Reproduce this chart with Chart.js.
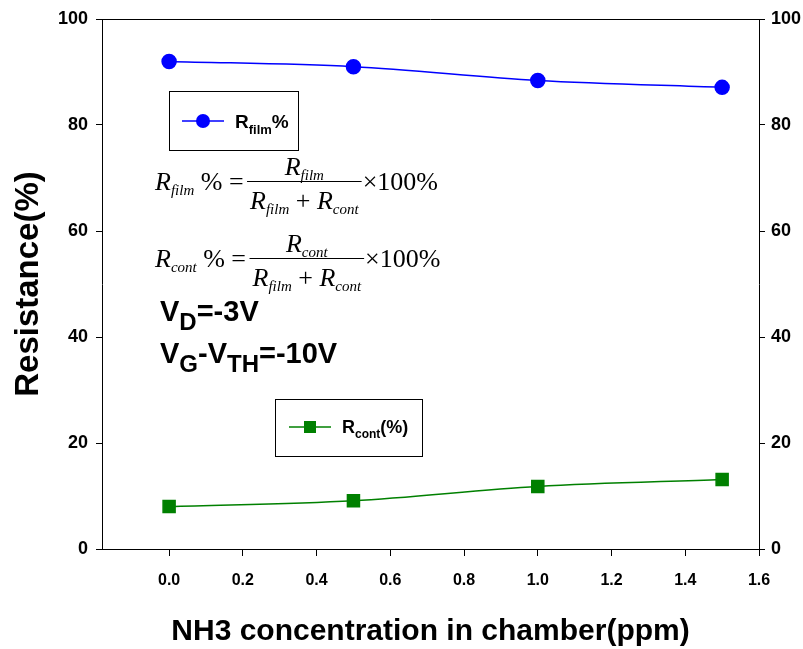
<!DOCTYPE html>
<html>
<head>
<meta charset="utf-8">
<script src="https://cdn.jsdelivr.net/npm/chart.js@4.4.1/dist/chart.umd.min.js"></script>
<style>
  html, body { margin: 0; padding: 0; background: #fff; }
  #wrap { width: 803px; height: 649px; }
</style>
</head>
<body>
<div id="wrap"><canvas id="c" width="803" height="649"></canvas></div>
<script>
// NH3 concentration (ppm)
const concentration = [0, 0.5, 1.0, 1.5];
// resistance shares (%)
const rFilm = [92.0, 91.0, 88.4, 87.1];
const rCont = [8.0, 9.1, 11.8, 13.1];
const yTicks = [0, 20, 40, 60, 80, 100];
const xTicks = [0, 0.2, 0.4, 0.6, 0.8, 1.0, 1.2, 1.4, 1.6];

const sans = "'Liberation Sans', Arial, sans-serif";
const serif = "'Liberation Serif', 'Times New Roman', serif";

function toPoints(xs, ys) {
    return xs.map(function (x, i) { return { x: x, y: ys[i] }; });
}

// draws a run of text pieces, each with its own font and baseline shift
function drawRun(ctx, parts, x, y) {
    parts.forEach(function (p) {
        ctx.font = p.font;
        ctx.fillText(p.t, x, y + (p.dy || 0));
        x += ctx.measureText(p.t).width;
    });
    return x;
}

function runWidth(ctx, parts) {
    let w = 0;
    parts.forEach(function (p) {
        ctx.font = p.font;
        w += ctx.measureText(p.t).width;
    });
    return w;
}

const it = 'italic 26px ' + serif;
const itSub = 'italic 15px ' + serif;
const rm = '26px ' + serif;

function drawFormula(ctx, sub, x, y) {
    let cx = drawRun(ctx, [
        { t: 'R', font: it },
        { t: sub, font: itSub, dy: 5 },
        { t: ' % = ', font: rm }
    ], x, y);
    const barL = cx - 3;
    const denom = [
        { t: 'R', font: it },
        { t: 'film', font: itSub, dy: 5 },
        { t: ' + ', font: rm },
        { t: 'R', font: it },
        { t: 'cont', font: itSub, dy: 5 }
    ];
    const numer = [
        { t: 'R', font: it },
        { t: sub, font: itSub, dy: 5 }
    ];
    const dw = runWidth(ctx, denom);
    const barR = barL + dw + 6;
    const nw = runWidth(ctx, numer);
    const barY = y - 8.5;
    drawRun(ctx, numer, (barL + barR) / 2 - nw / 2, barY - 7);
    drawRun(ctx, denom, barL + 3, barY + 27);
    ctx.beginPath();
    ctx.moveTo(barL, barY);
    ctx.lineTo(barR, barY);
    ctx.lineWidth = 1.2;
    ctx.stroke();
    drawRun(ctx, [{ t: '\u00d7100%', font: rm }], barR + 1, y);
}

const annotations = {
    id: 'annotations',
    afterDraw: function (chart) {
        const ctx = chart.ctx;
        const area = chart.chartArea;
        ctx.save();
        ctx.fillStyle = '#000';
        ctx.strokeStyle = '#000';
        ctx.textBaseline = 'alphabetic';
        ctx.textAlign = 'left';

        // top frame line
        ctx.lineWidth = 1;
        ctx.beginPath();
        ctx.moveTo(area.left, Math.round(area.top) + 0.5);
        ctx.lineTo(area.right, Math.round(area.top) + 0.5);
        ctx.stroke();

        // legend box: R film
        ctx.strokeRect(169.5, 91.5, 129, 59);
        ctx.strokeStyle = '#0000ff';
        ctx.lineWidth = 1.5;
        ctx.beginPath();
        ctx.moveTo(182, 121);
        ctx.lineTo(224, 121);
        ctx.stroke();
        ctx.fillStyle = '#0000ff';
        ctx.beginPath();
        ctx.arc(203, 121, 7, 0, Math.PI * 2);
        ctx.fill();
        ctx.fillStyle = '#000';
        drawRun(ctx, [
            { t: 'R', font: 'bold 19px ' + sans },
            { t: 'film', font: 'bold 13px ' + sans, dy: 6 },
            { t: '%', font: 'bold 19px ' + sans }
        ], 235, 128);

        // legend box: R cont
        ctx.strokeStyle = '#000';
        ctx.lineWidth = 1;
        ctx.strokeRect(275.5, 399.5, 147, 57);
        ctx.strokeStyle = '#008000';
        ctx.lineWidth = 1.5;
        ctx.beginPath();
        ctx.moveTo(289, 427);
        ctx.lineTo(331, 427);
        ctx.stroke();
        ctx.fillStyle = '#008000';
        ctx.fillRect(304, 421, 12, 12);
        ctx.fillStyle = '#000';
        drawRun(ctx, [
            { t: 'R', font: 'bold 18px ' + sans },
            { t: 'cont', font: 'bold 12px ' + sans, dy: 5 },
            { t: '(%)', font: 'bold 18px ' + sans }
        ], 342, 433);

        // formulas
        ctx.strokeStyle = '#000';
        drawFormula(ctx, 'film', 155, 190);
        drawFormula(ctx, 'cont', 155, 267);

        // bias conditions
        const big = 'bold 29px ' + sans;
        const small = 'bold 24px ' + sans;
        drawRun(ctx, [
            { t: 'V', font: big },
            { t: 'D', font: small, dy: 9 },
            { t: '=-3V', font: big }
        ], 160, 321);
        drawRun(ctx, [
            { t: 'V', font: big },
            { t: 'G', font: small, dy: 9 },
            { t: '-V', font: big },
            { t: 'TH', font: small, dy: 9 },
            { t: '=-10V', font: big }
        ], 160, 363);
        ctx.restore();
    }
};

const tickFont = { family: sans, size: 18, weight: 'bold' };

new Chart(document.getElementById('c'), {
    type: 'line',
    data: {
        datasets: [
            {
                label: 'Rfilm%',
                data: toPoints(concentration, rFilm),
                borderColor: '#0000ff',
                backgroundColor: '#0000ff',
                borderWidth: 1.5,
                tension: 0.4,
                cubicInterpolationMode: 'monotone',
                pointStyle: 'circle',
                pointRadius: 7,
                yAxisID: 'y'
            },
            {
                label: 'Rcont(%)',
                data: toPoints(concentration, rCont),
                borderColor: '#008000',
                backgroundColor: '#008000',
                borderWidth: 1.5,
                tension: 0.4,
                cubicInterpolationMode: 'monotone',
                pointStyle: 'rect',
                pointRadius: 8.5,
                yAxisID: 'y'
            }
        ]
    },
    options: {
        responsive: false,
        animation: false,
        layout: { padding: { top: 19, left: 0, right: 0, bottom: 0 } },
        plugins: {
            legend: { display: false },
            tooltip: { enabled: false }
        },
        scales: {
            x: {
                type: 'linear',
                position: 'bottom',
                min: -0.182,
                max: 1.6,
                afterFit: function (scale) { scale.height = 100; },
                afterBuildTicks: function (scale) {
                    scale.ticks = xTicks.map(function (v) { return { value: v }; });
                },
                border: { display: true, color: '#000', width: 1 },
                grid: { drawOnChartArea: false, drawTicks: true, tickLength: 7, color: '#000' },
                ticks: {
                    color: '#000',
                    font: { family: sans, size: 16, weight: 'bold' },
                    padding: 15,
                    maxRotation: 0,
                    callback: function (v) { return Number(v).toFixed(1); }
                },
                title: {
                    display: true,
                    text: 'NH3 concentration in chamber(ppm)',
                    color: '#000',
                    font: { family: sans, size: 30, weight: 'bold', lineHeight: 1 },
                    padding: { top: 0, bottom: 2 }
                }
            },
            y: {
                position: 'left',
                min: 0,
                max: 100,
                afterFit: function (scale) { scale.width = 102; },
                afterBuildTicks: function (scale) {
                    scale.ticks = yTicks.map(function (v) { return { value: v }; });
                },
                border: { display: true, color: '#000', width: 1 },
                grid: { drawOnChartArea: false, drawTicks: true, tickLength: 6, color: '#000' },
                ticks: { color: '#000', font: tickFont, padding: 8 },
                title: {
                    display: true,
                    text: 'Resistance(%)',
                    color: '#000',
                    font: { family: sans, size: 33, weight: 'bold', lineHeight: 1 },
                    padding: { top: 12, bottom: 0 }
                }
            },
            y2: {
                position: 'right',
                min: 0,
                max: 100,
                afterFit: function (scale) { scale.width = 44; },
                afterBuildTicks: function (scale) {
                    scale.ticks = yTicks.map(function (v) { return { value: v }; });
                },
                border: { display: true, color: '#000', width: 1 },
                grid: { drawOnChartArea: false, drawTicks: true, tickLength: 6, color: '#000' },
                ticks: { color: '#000', font: tickFont, padding: 6 }
            }
        }
    },
    plugins: [annotations]
});
</script>
</body>
</html>
